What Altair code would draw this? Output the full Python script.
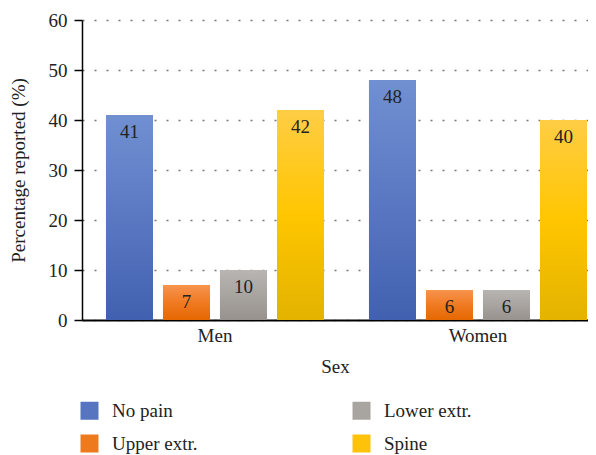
import altair as alt
import pandas as pd

# ---- data ----
sexes = ["Men", "Women"]
categories = ["No pain", "Upper extr.", "Lower extr.", "Spine"]
men_values = [41, 7, 10, 42]
women_values = [48, 6, 6, 40]

solid_colors = {
    "No pain": "#5674C0",
    "Lower extr.": "#A8A4A0",
    "Upper extr.": "#EE7A1E",
    "Spine": "#FFC20A",
}
gradient_stops = {
    "No pain": ["#7090D2", "#5A78C2", "#4160AF"],
    "Upper extr.": ["#F7944E", "#F07A22", "#E56800"],
    "Lower extr.": ["#B8B5B2", "#A8A4A0", "#97928E"],
    "Spine": ["#FFCD45", "#FFC600", "#E3B300"],
}

rows = []
for sex, vals in zip(sexes, [men_values, women_values]):
    for c, v in zip(categories, vals):
        rows.append({"Sex": sex, "Category": c, "Value": v})
df = pd.DataFrame(rows)

FONT = "'Liberation Serif', 'Times New Roman', Times, serif"
TXT = "#222222"
FS = 19

x_enc = alt.X(
    "Sex:N",
    sort=sexes,
    scale=alt.Scale(domain=sexes, paddingInner=0.171, paddingOuter=0.0475, align=0.96),
    axis=alt.Axis(
        title="Sex",
        labelAngle=0,
        ticks=False,
        domainColor="#000000",
        domainWidth=2,
        labelFont=FONT,
        labelFontSize=FS,
        labelColor=TXT,
        labelPadding=6,
        titleFont=FONT,
        titleFontSize=FS,
        titleFontWeight="normal",
        titleColor=TXT,
        titlePadding=12,
    ),
)
xo_enc = alt.XOffset(
    "Category:N",
    sort=categories,
    scale=alt.Scale(domain=categories, paddingInner=0.175, paddingOuter=0),
)
y_enc = alt.Y(
    "Value:Q",
    scale=alt.Scale(domain=[0, 60]),
    axis=alt.Axis(
        title="Percentage reported (%)",
        values=[0, 10, 20, 30, 40, 50, 60],
        grid=True,
        gridDash=[2, 10],
        gridColor="#777777",
        gridWidth=1.5,
        domainColor="#000000",
        domainWidth=1.5,
        tickColor="#000000",
        tickSize=8,
        tickWidth=1.5,
        labelFont=FONT,
        labelFontSize=FS,
        labelColor=TXT,
        labelPadding=7,
        titleFont=FONT,
        titleFontSize=FS,
        titleFontWeight="normal",
        titleColor=TXT,
        titleX=-54,
        titleY=150,
        titleAngle=270,
        titleAlign="center",
        titleBaseline="bottom",
    ),
)

base = alt.Chart(df)

solid_bars = base.mark_bar().encode(
    x=x_enc,
    xOffset=xo_enc,
    y=y_enc,
    color=alt.Color(
        "Category:N",
        scale=alt.Scale(domain=categories, range=[solid_colors[c] for c in categories]),
        legend=alt.Legend(
            title=None,
            orient="none",
            legendX=-2,
            legendY=381,
            columns=2,
            symbolType="square",
            symbolSize=324,
            symbolStrokeWidth=0,
            labelFont=FONT,
            labelFontSize=FS,
            labelColor=TXT,
            labelOffset=13,
            columnPadding=154,
            rowPadding=13,
        ),
    ),
)

grad_layers = []
for c in categories:
    stops = gradient_stops[c]
    grad_layers.append(
        base.transform_filter(alt.datum.Category == c)
        .mark_bar(
            fill=alt.LinearGradient(
                gradient="linear",
                x1=0, y1=0, x2=0, y2=1,
                stops=[
                    alt.GradientStop(offset=0, color=stops[0]),
                    alt.GradientStop(offset=0.5, color=stops[1]),
                    alt.GradientStop(offset=1, color=stops[2]),
                ],
            )
        )
        .encode(x=x_enc, xOffset=xo_enc, y=y_enc)
    )

labels = base.mark_text(
    baseline="middle", dy=17, font=FONT, fontSize=FS, color=TXT
).encode(x=x_enc, xOffset=xo_enc, y=y_enc, text="Value:Q")

chart = (
    alt.layer(solid_bars, *grad_layers, labels)
    .properties(
        width=506,
        height=300,
        autosize=alt.AutoSizeParams(type="none"),
        padding={"left": 74, "top": 12, "right": 0, "bottom": 135},
    )
    .configure_view(stroke=None)
)

chart.save("out.html", embed_options={"renderer": "svg", "actions": False})
